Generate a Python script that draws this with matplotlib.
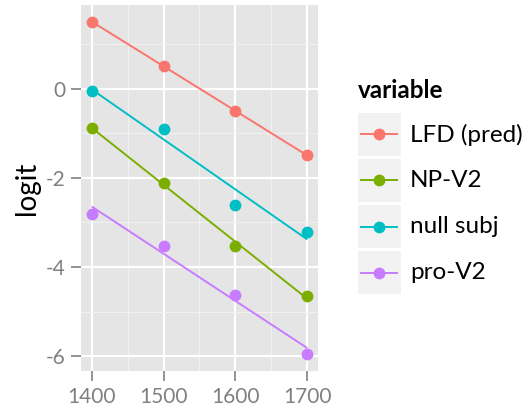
import numpy as np
import matplotlib
matplotlib.use("Agg")
import matplotlib.pyplot as plt
from matplotlib.patches import Rectangle
from matplotlib.lines import Line2D

plt.rcParams['font.family'] = ['Lato', 'DejaVu Sans']

years = [1400, 1500, 1600, 1700]
series_names = ["LFD (pred)", "NP-V2", "null subj", "pro-V2"]
lfd_pred = [1.50, 0.50, -0.50, -1.50]
np_v2 = [-0.88, -2.11, -3.54, -4.66]
null_subj = [-0.05, -0.915, -2.62, -3.22]
pro_v2 = [-2.81, -3.52, -4.64, -5.96]
colors = ["#F8766D", "#7CAE00", "#00BFC4", "#C77CFF"]
x_ticks = [1400, 1500, 1600, 1700]
y_ticks = [-6, -4, -2, 0]
legend_title = "variable"
y_label = "logit"

W, H = 529, 411
fig = plt.figure(figsize=(W / 100, H / 100), dpi=100)
L, R, T, B = 81, 318, 5, 371
ax = fig.add_axes([L / W, 1 - B / H, (R - L) / W, (B - T) / H])
ax.set_facecolor("#E5E5E5")
for s in ax.spines.values():
    s.set_visible(False)

xs = np.array(years, dtype=float)
all_y = []
for name, vals, c in zip(series_names, [lfd_pred, np_v2, null_subj, pro_v2], colors):
    v = np.array(vals)
    coef = np.polyfit(xs, v, 1)
    fit = np.polyval(coef, xs)
    all_y.extend(list(v) + list(fit))
    ax.plot(xs, fit, color=c, lw=1.4, zorder=3, solid_capstyle='butt')
    ax.plot(xs, v, 'o', color=c, ms=8.5, mec='none', zorder=4)

xmin, xmax = min(years), max(years)
xr = xmax - xmin
ax.set_xlim(xmin - 0.05 * xr, xmax + 0.05 * xr)
ymin, ymax = min(all_y), max(all_y)
yr = ymax - ymin
ax.set_ylim(ymin - 0.05 * yr, ymax + 0.05 * yr)

ax.set_xticks(x_ticks)
ax.set_yticks(y_ticks)
ax.set_xticks([1450, 1550, 1650], minor=True)
ax.set_yticks([-5, -3, -1, 1], minor=True)
ax.grid(True, which='major', color='white', lw=1.5, zorder=1)
ax.grid(True, which='minor', color='#F2F2F2', lw=0.7, zorder=1)
ax.set_axisbelow(True)
ax.tick_params(which='major', length=7, width=1.2, color='#808080',
               labelcolor='#808080', labelsize=15, pad=4.5)
ax.tick_params(which='minor', length=0)
ax.set_yticklabels([str(t) for t in y_ticks])
ax.set_ylabel(y_label, fontsize=20, color='black', labelpad=4)

# legend drawn in pixel coordinates
lax = fig.add_axes([0, 0, 1, 1], zorder=5)
lax.set_xlim(0, W)
lax.set_ylim(H, 0)
lax.axis('off')
lax.text(358, 98, legend_title, fontsize=17.5, fontweight='bold', va='baseline', ha='left')
key_top = 113
key_h = 43
step = 46
for i, (name, c) in enumerate(zip(series_names, colors)):
    y0 = key_top + i * step
    lax.add_patch(Rectangle((358, y0), 43, key_h, facecolor='#F2F2F2', edgecolor='none'))
    cy = y0 + key_h / 2
    lax.add_line(Line2D([361, 397], [cy, cy], color=c, lw=1.4))
    lax.plot([379], [cy], 'o', color=c, ms=8.5, mec='none')
    lax.text(410, cy, name, fontsize=17.5, va='center', ha='left')

fig.savefig("out.png", dpi=100)
